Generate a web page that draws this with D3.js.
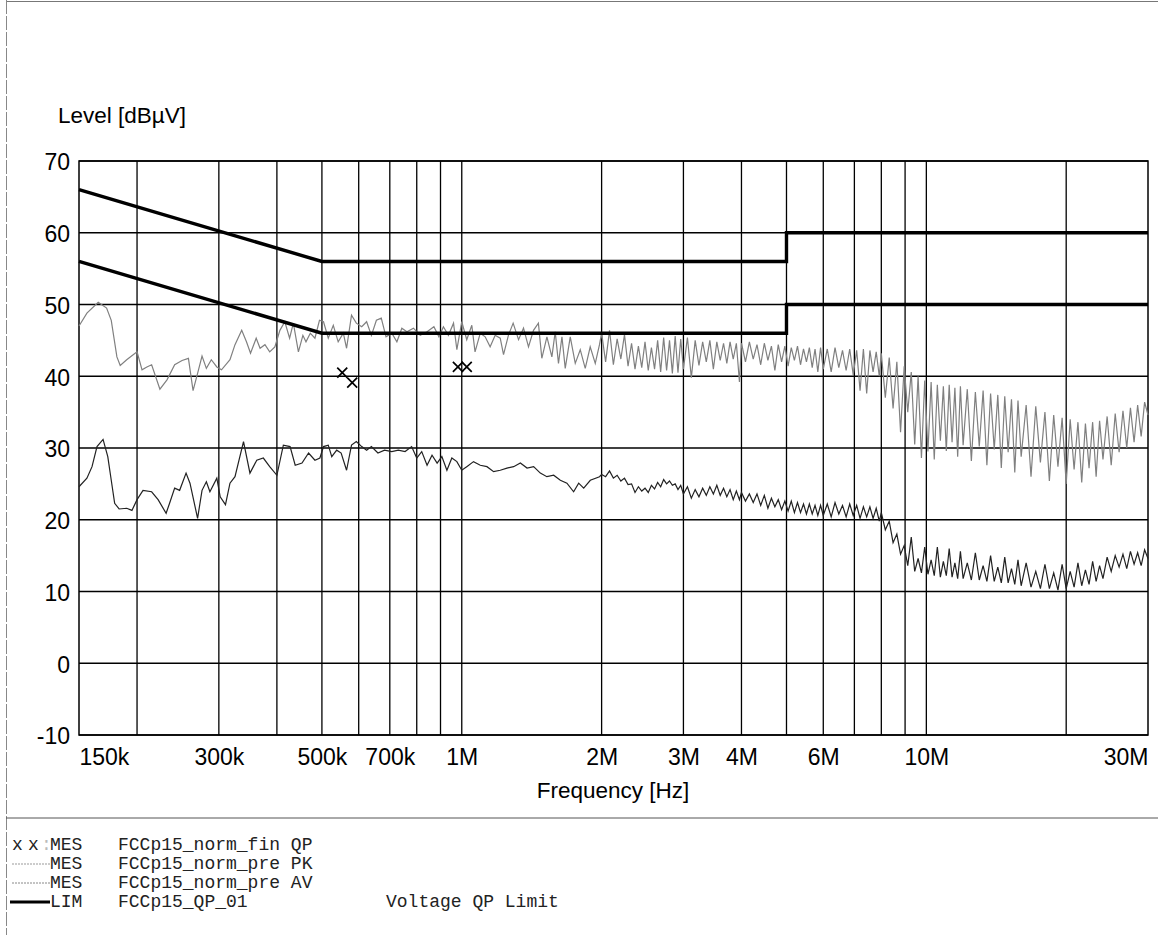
<!DOCTYPE html>
<html><head><meta charset="utf-8">
<script src="https://cdn.jsdelivr.net/npm/d3@7"></script>
<style>body{margin:0;background:#fff} svg{display:block}</style>
</head><body>
<svg id="c" width="1158" height="935"></svg>
<script>
// ---------- DATA ----------
const yTicks = [70, 60, 50, 40, 30, 20, 10, 0, -10];
const xTickValues = [0.15, 0.3, 0.5, 0.7, 1, 2, 3, 4, 6, 10, 30];
const xTickLabels = ["150k", "300k", "500k", "700k", "1M", "2M", "3M", "4M", "6M", "10M", "30M"];
const gridFreqs = [0.2, 0.3, 0.4, 0.5, 0.6, 0.7, 0.8, 0.9, 1, 2, 3, 4, 5, 6, 7, 8, 9, 10, 20];

const qpLimitFreq = [0.15, 0.5, 5, 5, 30];
const qpLimitLevel = [66, 56, 56, 60, 60];
const avLimitFreq = [0.15, 0.5, 5, 5, 30];
const avLimitLevel = [56, 46, 46, 50, 50];

const qpFreq = [0.553, 0.581, 0.981, 1.025];
const qpLevel = [40.5, 39.1, 41.3, 41.3];

// PK pre-scan, below 2 MHz (MHz / dBuV)
const pkFreqLow = [0.150,0.156,0.165,0.172,0.176,0.181,0.184,0.190,0.200,0.205,0.210,0.215,0.224,0.232,0.241,0.250,0.258,0.264,0.270,0.276,0.282,0.289,0.297,0.304,0.317,0.325,0.336,0.344,0.351,0.361,0.368,0.377,0.386,0.396,0.406,0.416,0.426,0.434,0.445,0.455,0.462,0.472,0.483,0.494,
 0.504,0.516,0.529,0.542,0.556,0.565,0.579,0.593,0.609,0.624,0.639,0.655,0.671,0.687,0.707,0.725,0.743,0.762,0.787,0.814,0.842,0.871,0.893,0.913,0.936,0.960,0.976,1.000,1.025,1.051,1.068,1.096,1.123,1.151,1.180,1.210,1.230,1.260,1.290,1.325,1.358,1.392,1.427,1.462,1.487,1.525,1.563,1.589,1.615,1.643,1.670,1.712,1.755,1.799,1.844,1.890,1.938,1.979];
const pkLevelLow = [47.0,48.8,50.3,49.5,47.8,42.7,41.5,42.3,43.4,40.9,41.3,41.6,38.2,39.5,41.6,42.2,42.5,38.0,40.4,42.8,41.1,42.3,41.3,40.9,42.3,44.4,46.4,44.8,43.2,45.3,43.9,44.4,43.4,44.1,46.4,47.6,45.3,47.4,43.4,45.7,44.8,46.0,45.3,47.8,
 47.6,45.3,47.1,44.8,46.0,43.9,48.5,47.4,46.9,47.6,45.7,47.8,48.1,45.5,46.0,44.8,46.7,46.2,46.7,45.7,46.2,46.9,45.5,46.9,45.7,47.4,43.7,47.6,45.1,47.1,43.4,46.0,45.5,44.1,45.7,45.3,43.0,45.7,47.4,45.1,46.7,44.1,46.4,47.4,42.5,45.5,42.7,46.2,41.8,45.5,41.1,45.5,41.8,43.7,41.1,44.1,41.8,44.4];

// AV pre-scan, below 2 MHz
const avFreqLow = [0.150,0.156,0.160,0.164,0.169,0.173,0.176,0.179,0.183,0.190,0.195,0.200,0.206,0.215,0.222,0.231,0.235,0.241,0.247,0.255,0.260,0.270,0.276,0.282,0.287,0.297,0.302,0.310,0.317,0.325,0.339,0.350,0.362,0.374,0.386,0.400,0.413,0.427,0.438,0.453,0.468,0.483,0.495,
 0.504,0.516,0.525,0.538,0.550,0.565,0.579,0.593,0.609,0.624,0.639,0.660,0.682,0.707,0.730,0.755,0.780,0.800,0.820,0.842,0.863,0.885,0.906,0.929,0.952,0.976,1.000,1.025,1.060,1.096,1.133,1.171,1.210,1.251,1.293,1.337,1.382,1.428,1.476,1.525,1.577,1.630,1.684,1.741,1.785,1.830,1.891,1.979];
const avLevelLow = [24.6,25.8,27.4,30.2,31.2,28.8,25.5,22.3,21.5,21.6,21.3,22.8,24.1,23.9,22.8,20.9,22.3,24.4,24.1,26.5,25.1,20.2,24.1,25.3,23.9,25.8,23.2,22.1,25.1,26.0,30.9,26.5,28.3,28.6,27.4,26.2,30.4,30.2,27.6,27.9,29.3,28.3,28.6,
 30.2,30.4,28.8,29.7,29.3,26.9,30.4,30.9,30.2,29.7,30.2,29.3,29.7,29.5,29.7,29.5,30.2,28.6,29.5,27.6,29.0,27.9,28.8,26.9,28.6,28.1,26.9,27.4,28.1,27.6,27.4,26.7,26.9,27.2,27.4,27.9,27.2,27.4,26.5,26.0,26.2,25.5,25.1,23.9,25.1,24.4,25.5,26.0];

// dense sweep 2 MHz .. 30 MHz (shared frequencies of both pre-scans)
const sweepFreq = [2.00,2.04,2.08,2.12,2.16,2.20,2.24,2.28,2.32,2.36,2.40,2.44,2.48,2.52,2.56,2.60,2.64,2.68,2.72,2.76,2.80,2.84,2.88,2.92,2.96,
 3.00,3.06,3.12,3.18,3.24,3.30,3.36,3.42,3.48,3.54,3.60,3.66,3.72,3.78,3.84,3.90,3.96,
 4.00,4.08,4.16,4.24,4.32,4.40,4.48,4.56,4.64,4.72,4.80,4.88,4.96,5.04,5.12,5.20,5.28,5.36,5.44,5.52,5.60,5.68,5.76,5.84,5.92,
 6.00,6.12,6.24,6.36,6.48,6.60,6.72,6.84,6.96,7.08,7.20,7.32,7.44,7.56,7.68,7.80,7.92,
 8.00,8.16,8.32,8.48,8.64,8.80,8.96,9.12,9.28,9.44,9.60,9.76,9.92,10.08,10.24,10.40,10.56,10.72,10.88,11.04,11.20,11.36,11.52,11.68,11.84,
 12.00,12.25,12.50,12.75,13.00,13.25,13.50,13.75,14.00,14.25,14.50,14.75,15.00,15.25,15.50,15.75,
 16.0,16.4,16.8,17.2,17.6,18.0,18.4,18.8,19.2,19.6,20.0,20.4,20.8,21.2,21.6,22.0,22.4,22.8,23.2,23.6,
 24.0,24.5,25.0,25.5,26.0,26.5,27.0,27.5,28.0,28.5,29.0,29.5,30.0];
const pkLevelSweep = [46.0,42.0,46.4,41.6,45.2,42.4,45.8,41.4,44.6,41.0,44.2,41.2,44.8,40.8,44.0,41.0,45.0,40.6,45.4,40.8,45.0,40.4,45.6,40.5,45.2,
 41.0,45.4,39.8,45.0,41.5,44.8,42.0,45.0,41.0,44.8,42.2,44.6,41.8,44.8,42.4,44.6,39.2,
 44.6,42.0,44.8,42.4,44.4,41.6,44.6,42.2,44.2,40.8,44.4,42.0,44.2,41.4,44.0,42.2,44.2,41.6,43.8,42.0,44.0,41.2,43.8,40.6,44.0,
 41.0,43.8,40.6,44.0,41.2,43.6,40.8,43.8,40.2,43.6,38.0,43.8,37.6,43.6,40.6,43.4,40.0,
 43.2,37.0,42.6,35.5,42.0,32.2,41.4,35.0,40.6,30.5,40.0,28.6,39.4,29.5,39.2,28.4,38.8,31.0,38.6,29.6,38.8,30.8,38.4,28.8,38.6,
 30.4,38.2,28.2,37.8,30.2,38.0,27.6,37.6,29.8,37.4,27.2,37.2,29.4,36.8,26.6,36.6,
 28.8,36.0,26.0,35.8,28.0,35.0,25.4,34.6,27.4,34.2,25.0,34.0,27.0,33.6,25.2,33.4,27.2,33.6,26.0,33.8,
 28.4,34.4,27.6,34.8,29.4,35.2,30.0,35.6,30.8,36.0,31.6,36.4,34.6];
const avLevelSweep = [26.3,26.0,26.8,25.8,26.2,25.4,25.8,24.9,25.0,23.8,24.6,24.0,24.4,23.8,24.8,24.3,25.2,24.6,25.6,25.0,25.4,24.8,25.0,24.2,24.8,
 23.6,24.6,23.0,24.2,23.2,24.4,23.4,24.6,23.6,24.8,23.4,24.4,23.2,24.2,22.8,24.0,22.8,
 23.8,22.6,23.6,22.4,23.6,22.0,23.4,21.6,23.0,21.8,22.8,21.4,22.6,21.2,22.6,21.0,22.4,21.0,22.2,20.8,22.2,20.8,22.0,20.6,22.0,
 20.6,22.2,20.4,22.4,20.8,22.0,20.4,22.2,20.6,22.0,20.2,21.8,20.4,21.8,20.2,21.6,19.8,
 21.0,18.6,19.8,16.8,18.0,15.2,16.4,13.6,17.6,12.8,14.6,12.6,16.2,12.4,14.4,12.2,16.2,12.0,14.2,12.2,16.0,12.0,14.0,11.8,15.6,
 11.8,14.0,11.6,15.4,11.6,13.6,11.4,15.0,11.4,13.4,11.2,14.8,11.2,13.2,11.0,14.4,
 10.8,14.0,10.6,12.8,10.4,13.8,10.4,12.6,10.2,13.8,10.4,12.8,10.6,14.0,10.8,13.0,11.0,14.2,11.4,13.6,
 11.8,14.8,12.8,15.0,13.4,15.2,13.2,15.6,13.8,15.4,13.6,15.8,14.6];

const legendRows = [
  {sym: "x x", kind: "MES", name: "FCCp15_norm_fin QP", note: ""},
  {sym: "pk",  kind: "MES", name: "FCCp15_norm_pre PK", note: ""},
  {sym: "av",  kind: "MES", name: "FCCp15_norm_pre AV", note: ""},
  {sym: "lim", kind: "LIM", name: "FCCp15_QP_01", note: "Voltage QP Limit"}
];

// ---------- DRAW ----------
const svg = d3.select("#c");
const W = 1158, H = 935;
const x = d3.scaleLog().domain([0.15, 30]).range([79, 1148]);
const y = d3.scaleLinear().domain([-10, 70]).range([735, 161]);
const sans = "'Liberation Sans', Arial, sans-serif";
const mono = "'Liberation Mono', 'Courier New', monospace";

svg.append("rect").attr("width", W).attr("height", H).attr("fill", "#fff");
// page border lines
svg.append("line").attr("x1", 6).attr("x2", W).attr("y1", 1.5).attr("y2", 1.5).attr("stroke", "#777").attr("stroke-width", 1);
svg.append("line").attr("x1", 6.5).attr("x2", 6.5).attr("y1", 0).attr("y2", H).attr("stroke", "#888").attr("stroke-width", 1).attr("stroke-dasharray", "14 2");
svg.append("line").attr("x1", 6).attr("x2", W).attr("y1", 818).attr("y2", 818).attr("stroke", "#555").attr("stroke-width", 1);

// grid
const grid = svg.append("g").attr("stroke", "#000").attr("stroke-width", 1.3);
grid.selectAll(".v").data(gridFreqs).join("line")
  .attr("x1", d => x(d)).attr("x2", d => x(d)).attr("y1", y(70)).attr("y2", y(-10));
grid.selectAll(".h").data(yTicks).join("line")
  .attr("x1", x(0.15)).attr("x2", x(30)).attr("y1", d => y(d)).attr("y2", d => y(d));
svg.append("rect").attr("x", x(0.15)).attr("y", y(70)).attr("width", x(30) - x(0.15)).attr("height", y(-10) - y(70))
  .attr("fill", "none").attr("stroke", "#000").attr("stroke-width", 1.5);

// axes
const xAxis = svg.append("g").attr("transform", `translate(0,${y(-10)})`)
  .call(d3.axisBottom(x).tickValues(xTickValues).tickFormat((d, i) => xTickLabels[i]).tickSize(0));
xAxis.select(".domain").remove();
xAxis.selectAll("text").attr("y", 30).attr("dy", null)
  .attr("font-family", sans).attr("font-size", 23).attr("fill", "#000")
  .attr("text-anchor", (d, i) => i === 0 ? "start" : (i === xTickValues.length - 1 ? "end" : "middle"));

const yAxis = svg.append("g").attr("transform", `translate(${x(0.15)},0)`)
  .call(d3.axisLeft(y).tickValues(yTicks).tickFormat(d => String(d)).tickSize(0).tickPadding(9));
yAxis.select(".domain").remove();
yAxis.selectAll("text").attr("dy", "0.38em").attr("font-family", sans).attr("font-size", 23).attr("fill", "#000");

svg.append("text").attr("x", 58).attr("y", 123).attr("font-family", sans).attr("font-size", 22.5)
  .text("Level [dBµV]");
svg.append("text").attr("x", 613).attr("y", 798).attr("text-anchor", "middle").attr("font-family", sans).attr("font-size", 22.5)
  .text("Frequency [Hz]");

// traces
const line = d3.line().x(d => x(d[0])).y(d => y(d[1]));
const pkAll = pkLevelLow.concat(pkLevelSweep);
const avAll = avLevelLow.concat(avLevelSweep);
const pkData = pkFreqLow.concat(sweepFreq).map((f, i) => [f, pkAll[i]]);
const avData = avFreqLow.concat(sweepFreq).map((f, i) => [f, avAll[i]]);
const plot = svg.append("g");
plot.append("path").attr("d", line(pkData)).attr("fill", "none").attr("stroke", "#808080").attr("stroke-width", 1.2);
plot.append("path").attr("d", line(avData)).attr("fill", "none").attr("stroke", "#222").attr("stroke-width", 1.2);

// limits
plot.append("path").attr("d", line(qpLimitFreq.map((f, i) => [f, qpLimitLevel[i]])))
  .attr("fill", "none").attr("stroke", "#000").attr("stroke-width", 3.4);
plot.append("path").attr("d", line(avLimitFreq.map((f, i) => [f, avLimitLevel[i]])))
  .attr("fill", "none").attr("stroke", "#000").attr("stroke-width", 3.4);

// QP final markers
const s = 5;
plot.selectAll(".qp").data(qpFreq.map((f, i) => [f, qpLevel[i]])).join("path")
  .attr("d", d => { const cx = x(d[0]), cy = y(d[1]); return `M${cx - s},${cy - s}L${cx + s},${cy + s}M${cx - s},${cy + s}L${cx + s},${cy - s}`; })
  .attr("stroke", "#000").attr("stroke-width", 1.7).attr("fill", "none");

// legend
const lg = svg.append("g").attr("font-family", mono).attr("font-size", 18).attr("fill", "#222");
legendRows.forEach((r, i) => {
  const by = 850 + i * 19;
  if (r.sym === "x x") {
    lg.append("text").attr("x", 12).attr("y", by).text("x");
    lg.append("text").attr("x", 28).attr("y", by).text("x");
    lg.append("text").attr("x", 41).attr("y", by).attr("fill", "#bbb").text(":");
  } else if (r.sym === "lim") {
    lg.append("line").attr("x1", 10).attr("x2", 50).attr("y1", by - 5).attr("y2", by - 5).attr("stroke", "#000").attr("stroke-width", 3);
  } else {
    lg.append("line").attr("x1", 12).attr("x2", 50).attr("y1", by - 5).attr("y2", by - 5)
      .attr("stroke", r.sym === "pk" ? "#999" : "#888").attr("stroke-width", 1).attr("stroke-dasharray", "2 1");
  }
  lg.append("text").attr("x", 50).attr("y", by).text(r.kind);
  lg.append("text").attr("x", 118).attr("y", by).text(r.name);
  if (r.note) lg.append("text").attr("x", 386).attr("y", by).text(r.note);
});
</script>
</body></html>
